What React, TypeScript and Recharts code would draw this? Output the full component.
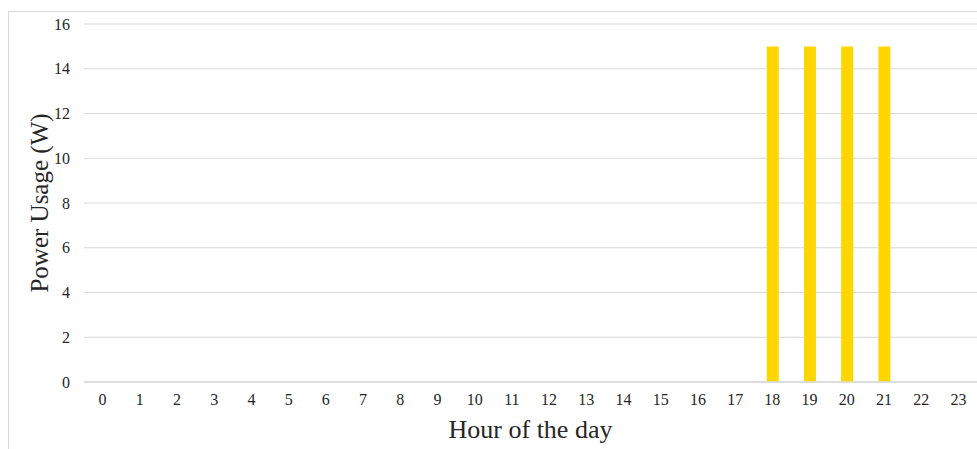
import React from 'react';
import { BarChart, Bar, XAxis, YAxis, CartesianGrid, Label } from 'recharts';

const hours = ['0','1','2','3','4','5','6','7','8','9','10','11','12','13','14','15','16','17','18','19','20','21','22','23'];
const powerUsage = [0,0,0,0,0,0,0,0,0,0,0,0,0,0,0,0,0,0,15,15,15,15,0,0];
const yTicks = [0, 2, 4, 6, 8, 10, 12, 14, 16];

const data = hours.map((h, i) => ({ hour: h, power: powerUsage[i] }));

const FONT = '"Liberation Serif", serif';

const XLabel = (props: any) => {
  const vb = props.viewBox;
  return (
    <text x={vb.x + vb.width / 2} y={vb.y + 56} textAnchor="middle" fontFamily={FONT} fontSize={26} fill="#262626">
      Hour of the day
    </text>
  );
};

const YLabel = (props: any) => {
  const vb = props.viewBox;
  const cx = 30;
  const cy = vb.y + vb.height / 2;
  return (
    <text x={cx} y={cy} transform={`rotate(-90 ${cx} ${cy})`} textAnchor="middle" dominantBaseline="central" fontFamily={FONT} fontSize={25} fill="#262626">
      Power Usage (W)
    </text>
  );
};

export default function App() {
  return (
    <div style={{ position: 'absolute', left: 8, top: 11, width: 969, height: 438, borderLeft: '1px solid #d9d9d9', borderTop: '1px solid #d9d9d9', boxSizing: 'border-box', background: '#fff', overflow: 'hidden' }}>
      <BarChart width={968} height={437} data={data} margin={{ top: 12, right: 0, bottom: 7, left: 0 }} barCategoryGap={0}>
        <CartesianGrid horizontal vertical={false} stroke="#d9d9d9" />
        <XAxis dataKey="hour" height={60} axisLine={{ stroke: '#d9d9d9', strokeWidth: 1.5 }} tickLine={false} tickMargin={6} interval={0}
          tick={{ fontFamily: FONT, fontSize: 16, fill: '#262626' }}>
          <Label content={<XLabel />} />
        </XAxis>
        <YAxis width={75} domain={[0, 16]} ticks={yTicks} axisLine={false} tickLine={false} tickMargin={8}
          tick={{ fontFamily: FONT, fontSize: 16, fill: '#262626' }}>
          <Label content={<YLabel />} />
        </YAxis>
        <Bar dataKey="power" fill="#ffd600" barSize={12} isAnimationActive={false} />
      </BarChart>
    </div>
  );
}
